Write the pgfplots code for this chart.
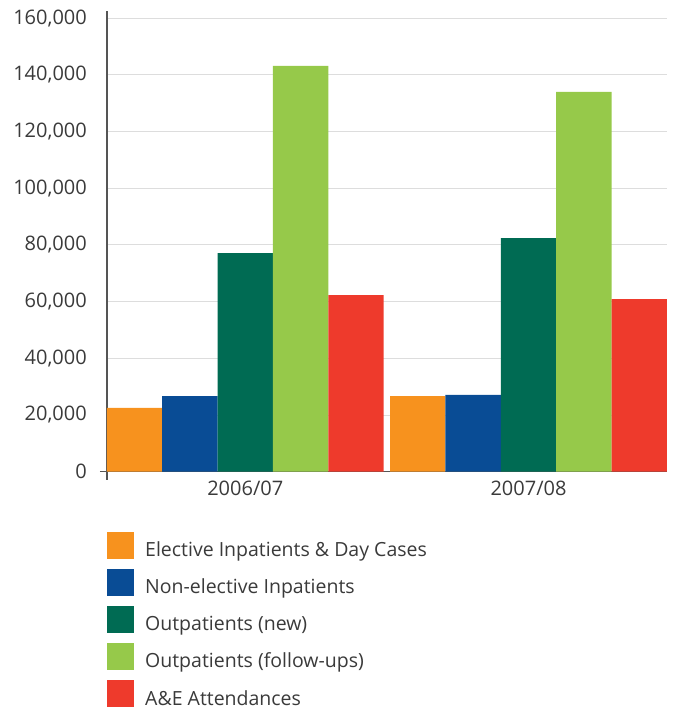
\documentclass[border=0pt]{standalone}
\usepackage{pgfplots}
\pgfplotsset{compat=1.18}
\usepackage{fontspec}
\setmainfont{Open Sans}
\definecolor{cOrange}{HTML}{F7921E}
\definecolor{cBlue}{HTML}{094C95}
\definecolor{cDark}{HTML}{006B53}
\definecolor{cLight}{HTML}{96C94A}
\definecolor{cRed}{HTML}{EE3A2C}
\definecolor{axisgray}{HTML}{555555}
\definecolor{gridgray}{HTML}{DDDDDD}
\definecolor{textgray}{HTML}{3A3A3A}
\begin{document}
\begin{tikzpicture}
\begin{axis}[
  at={(0,0)}, anchor=south west,
  width=560pt, height=453.4pt, scale only axis,
  ybar=0pt, bar width=0.1954,
  xmin=-0.488, xmax=1.489, ymin=0, ymax=160000,
  xtick={0,1}, xticklabels={2006/07,2007/08},
  ytick={0,20000,40000,60000,80000,100000,120000,140000,160000},
  yticklabels={0,{20,000},{40,000},{60,000},{80,000},{100,000},{120,000},{140,000},{160,000}},
  axis lines=left,
  axis line style={-, draw=axisgray, line width=1.2pt},
  x axis line style={shorten <=-7pt},
  y axis line style={shorten <=-8pt, shorten >=-7pt},
  major tick length=0pt,
  ymajorgrids, grid style={draw=gridgray, line width=1pt},
  tick label style={font=\fontsize{20}{24}\selectfont, text=textgray},
  yticklabel style={inner sep=0pt, xshift=-20pt},
  xticklabel style={inner sep=0pt, yshift=-9pt},
  scaled y ticks=false,
  legend style={at={(0,0)}, anchor=north west, yshift=-59.6pt, draw=none, fill=none,
    inner sep=0pt, font=\fontsize{19.5}{23}\selectfont, text=textgray,
    nodes={inner sep=0pt, text height=16pt, text depth=1pt},
    row sep=10.2pt, column sep=11pt},
  legend cell align=left,
  legend image code/.code={\fill[#1] (0pt,-9.7pt) rectangle (27pt,17.3pt);},
]
\addplot[fill=cOrange, draw=none] coordinates {(0,22500) (1,26700)};
\addplot[fill=cBlue, draw=none] coordinates {(0,26700) (1,27100)};
\addplot[fill=cDark, draw=none] coordinates {(0,77100) (1,82400)};
\addplot[fill=cLight, draw=none] coordinates {(0,143200) (1,134000)};
\addplot[fill=cRed, draw=none] coordinates {(0,62300) (1,60900)};
\legend{Elective Inpatients \& Day Cases, Non-elective Inpatients, Outpatients (new), Outpatients (follow-ups), A\&E Attendances}
\end{axis}
\pgfresetboundingbox
\path (-107pt,-236.3pt) rectangle (566pt,471.7pt);
\end{tikzpicture}
\end{document}
